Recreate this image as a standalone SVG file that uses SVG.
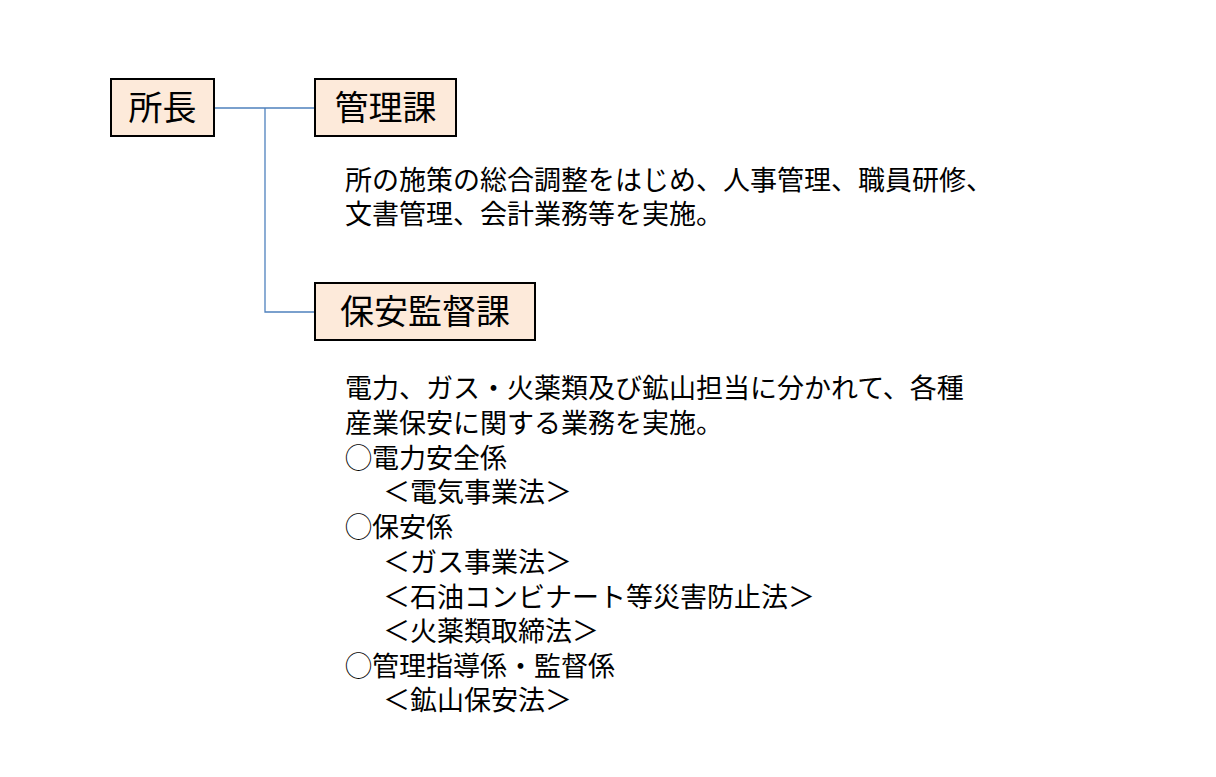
<svg xmlns="http://www.w3.org/2000/svg" width="1216" height="777" viewBox="0 0 1216 777">
<style>
.box{fill:#fdeada;stroke:#000;stroke-width:2}
.bt{font-family:"Noto Sans CJK JP","Noto Sans CJK SC",sans-serif;font-size:34px;fill:#000}
.t{font-family:"Noto Sans CJK JP","Noto Sans CJK SC",sans-serif;font-size:27px;fill:#000}
.c{fill:none;stroke:#4f81bd;stroke-width:1.3}
</style>
<rect width="1216" height="777" fill="#fff"/>
<g id="connectors">
<path class="c" d="M214,108H315M265,108V312H315"/>
</g>
<g id="n1"><rect class="box" x="111" y="79" width="103" height="57"/><text class="bt" x="162.5" y="120" text-anchor="middle">所長</text></g>
<g id="n2"><rect class="box" x="315" y="79" width="141" height="57"/><text class="bt" x="385.5" y="120" text-anchor="middle">管理課</text></g>
<g id="n3"><rect class="box" x="315" y="283" width="220" height="57"/><text class="bt" x="425" y="324" text-anchor="middle">保安監督課</text></g>
<g id="desc1">
<text class="t" x="345" y="190">所の施策の総合調整をはじめ、人事管理、職員研修、</text>
<text class="t" x="345" y="224">文書管理、会計業務等を実施。</text>
</g>
<g id="desc2">
<text class="t" x="345" y="398">電力、ガス・火薬類及び鉱山担当に分かれて、各種</text>
<text class="t" x="345" y="433">産業保安に関する業務を実施。</text>
<text class="t" x="345" y="468">◯電力安全係</text>
<text class="t" x="383" y="502">＜電気事業法＞</text>
<text class="t" x="345" y="537">◯保安係</text>
<text class="t" x="383" y="572">＜ガス事業法＞</text>
<text class="t" x="383" y="607">＜石油コンビナート等災害防止法＞</text>
<text class="t" x="383" y="641">＜火薬類取締法＞</text>
<text class="t" x="345" y="676">◯管理指導係・監督係</text>
<text class="t" x="383" y="710">＜鉱山保安法＞</text>
</g>
</svg>
